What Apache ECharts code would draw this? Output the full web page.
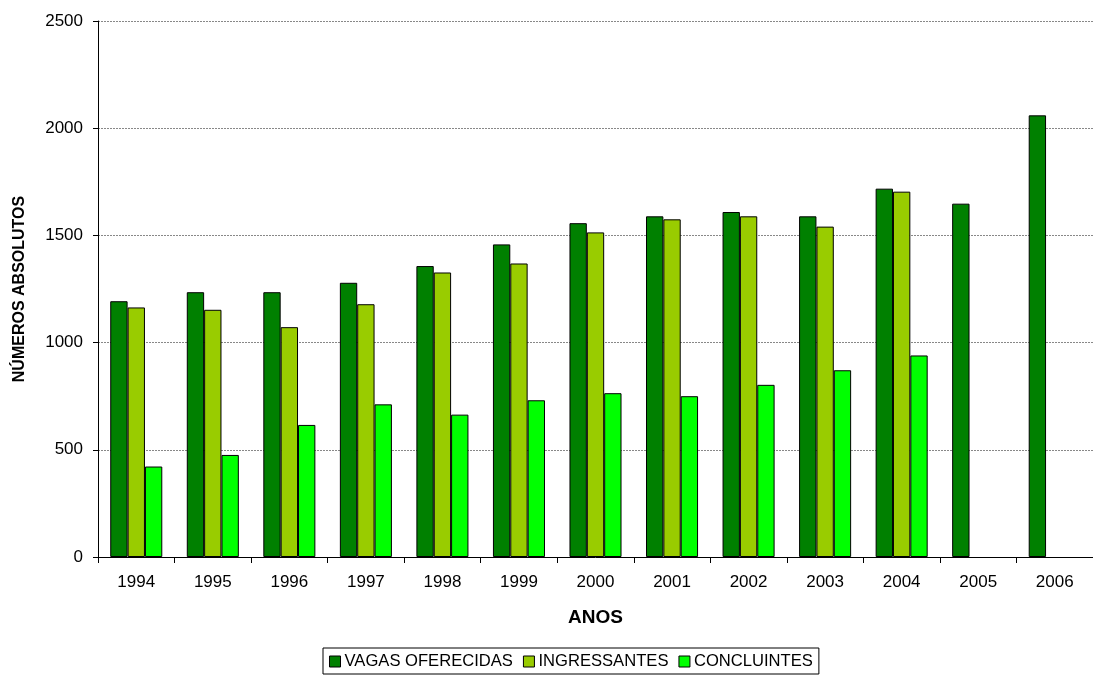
<!DOCTYPE html>
<html lang="pt">
<head>
    <meta charset="UTF-8">
    <title>Vagas, ingressantes e concluintes</title>
    <style>
        html,body{
            margin: 0;
            width: 100%;
            height: 100%;
            background: #fff;
        }
        #chartmain{
            width: 1093px;
            height: 675px;
        }
    </style>
</head>
<body>
<div id="chartmain"></div>
<script src="https://cdn.jsdelivr.net/npm/echarts@6/dist/echarts.min.js"></script>
<script type="text/javascript">
    // dados
    var anos = ['1994', '1995', '1996', '1997', '1998', '1999', '2000', '2001', '2002', '2003', '2004', '2005', '2006'];
    var vagas = [1193, 1235, 1235, 1279, 1357, 1458, 1557, 1589, 1609, 1589, 1718, 1648, 2060];
    var ingressantes = [1164, 1153, 1072, 1179, 1327, 1369, 1514, 1575, 1589, 1541, 1704, null, null];
    var concluintes = [422, 476, 616, 712, 664, 731, 764, 750, 803, 871, 940, null, null];
    var yTicks = [0, 500, 1000, 1500, 2000, 2500];

    var fonte = 'Liberation Sans, Arial, sans-serif';

    function serie(nome, cor, dados) {
        return {
            name: nome,
            type: 'bar',
            data: dados,
            barGap: '0%',
            barCategoryGap: '32%',
            itemStyle: { color: cor, borderColor: '#000', borderWidth: 1 }
        };
    }

    var option = {
        animation: false,
        textStyle: { fontFamily: fonte },
        grid: { left: 98, right: 0, top: 21, bottom: 118 },
        legend: {
            top: 648,
            left: 323,
            itemWidth: 11,
            itemHeight: 11,
            itemGap: 10,
            padding: [5, 6, 4, 6],
            borderColor: '#000',
            borderWidth: 1,
            borderRadius: 0,
            icon: 'rect',
            textStyle: { fontFamily: fonte, fontSize: 16.6, color: '#000', padding: [0, 0, 0, -1] },
            data: [
                { name: 'VAGAS OFERECIDAS', itemStyle: { borderColor: '#000', borderWidth: 1 } },
                { name: 'INGRESSANTES', itemStyle: { borderColor: '#000', borderWidth: 1 } },
                { name: 'CONCLUINTES', itemStyle: { borderColor: '#000', borderWidth: 1 } }
            ]
        },
        xAxis: {
            type: 'category',
            data: anos,
            name: 'ANOS',
            nameLocation: 'middle',
            nameGap: 51,
            nameTextStyle: { fontFamily: fonte, fontSize: 19, fontWeight: 'bold', color: '#000' },
            axisLine: { lineStyle: { color: '#000', width: 1 } },
            axisTick: { show: true, alignWithLabel: false, length: 6, lineStyle: { color: '#000' } },
            axisLabel: { fontFamily: fonte, fontSize: 17, color: '#000', margin: 17 }
        },
        yAxis: {
            type: 'value',
            min: yTicks[0],
            max: yTicks[yTicks.length - 1],
            interval: 500,
            name: 'NÚMEROS ABSOLUTOS',
            nameLocation: 'middle',
            nameGap: 70,
            nameTextStyle: { fontFamily: fonte, fontSize: 16, fontWeight: 'bold', color: '#000' },
            axisLine: { show: true, lineStyle: { color: '#000', width: 1 } },
            axisTick: { show: true, length: 5, lineStyle: { color: '#000' } },
            axisLabel: {
                fontFamily: fonte, fontSize: 17, color: '#000', margin: 15,
                formatter: function (v) { return String(v); }
            },
            splitLine: { show: true, lineStyle: { color: '#888', width: 1, type: [2, 1] } }
        },
        series: [
            serie('VAGAS OFERECIDAS', '#008000', vagas),
            serie('INGRESSANTES', '#99CC00', ingressantes),
            serie('CONCLUINTES', '#00FF00', concluintes)
        ]
    };

    var myChart = echarts.init(document.getElementById('chartmain'));
    myChart.setOption(option);
</script>
</body>
</html>
